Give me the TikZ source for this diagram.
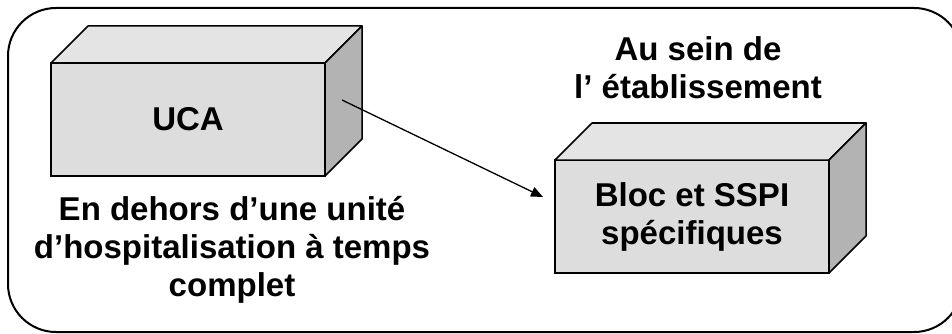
\documentclass[tikz,border=0pt]{standalone}
\usepackage{fontspec}
\setmainfont{Liberation Sans}
\usepackage{tikz}
\usetikzlibrary{arrows.meta,positioning,calc}

\definecolor{topgray}{HTML}{E4E4E4}
\definecolor{frontgray}{HTML}{DDDDDD}
\definecolor{sidegray}{HTML}{B3B3B3}

\begin{document}
\begin{tikzpicture}[x=1pt, y=1pt, >={Triangle[length=12pt,width=10pt]},
    bigtext/.style={font=\fontsize{33}{38}\selectfont\bfseries, align=center},
    boxfront/.style={draw, line width=1.5pt, fill=frontgray, minimum width=274pt,
        minimum height=113pt, inner sep=0pt, outer sep=0pt, bigtext}]
    \useasboundingbox (0,0) rectangle (952,-334);
    \clip (0,0) rectangle (952,-334);

    % Outer frame
    \draw[line width=2pt, rounded corners=48pt] (8,-8) rectangle (962,-332);

    % Boxes (front faces)
    \node[boxfront] (uca) at (188,-119.5) {UCA};
    \node[boxfront] (bloc) at (692,-216.5) {Bloc et SSPI\\sp\'ecifiques};

    % Top and side faces
    \foreach \b in {uca,bloc} {
        \draw[line width=1.5pt, line join=round, fill=topgray] (\b.north west) -- ++(37,37)
            -- ++(274,0) -- (\b.north east) -- cycle;
        \draw[line width=1.5pt, line join=round, fill=sidegray] (\b.north east) -- ++(37,37)
            -- ++(0,-113) -- (\b.south east) -- cycle;
    }

    % Captions
    \node[bigtext] (outside) at (232,-250) {En dehors d’une unit\'e\\d’hospitalisation \`a temps\\complet};
    \node[bigtext] (inside) at (698,-68) {Au sein de\\l’ \'etablissement};

    % Arrow
    \coordinate (ucaside) at ($(uca.east)+(17,19.5)$);
    \coordinate (blocin) at ($(bloc.west)+(-12,19.5)$);
    \draw[->, line width=1.3pt] (ucaside) -- (blocin);
\end{tikzpicture}
\end{document}
